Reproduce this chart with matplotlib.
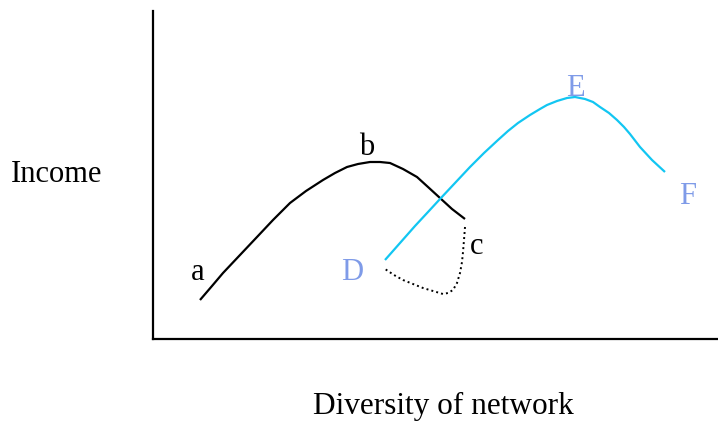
import numpy as np
import matplotlib
matplotlib.use('Agg')
import matplotlib.pyplot as plt

# curve readings (x = diversity, y = income), in arbitrary units from the axes corner
black_x = [47, 59, 70, 87, 104, 120, 137, 153, 170, 182, 194, 205, 217, 227, 237,
           250, 264, 275, 287, 299, 312]
black_y = [39, 53, 66, 84, 102, 119, 136, 148, 159, 166, 172, 175, 177, 177, 176,
           170, 162, 152, 141, 130, 120]

dotted_x = [312, 311, 310, 309, 307, 304, 300, 295, 290, 280, 270, 260, 250, 241, 232]
dotted_y = [112, 99, 87, 77, 66, 56, 49, 46, 45, 48, 51, 55, 59, 64, 70]

cyan_x = [232, 247, 262, 275, 287, 302, 317, 331, 345, 355, 365, 377, 387, 394, 404,
          414, 422, 432, 440, 447, 456, 464, 471, 477, 487, 499, 512]
cyan_y = [79, 96, 113, 127, 140, 156, 172, 186, 199, 208, 216, 224, 230, 234, 238,
          241, 242, 240, 237, 232, 226, 219, 212, 205, 192, 179, 167]

# point labels: (text, x, y)
labels = ['a', 'b', 'c', 'D', 'E', 'F']
label_x = [45, 214, 324, 199, 422, 535]
label_y = [67, 191, 92, 66, 250, 143]
label_colors = ['black', 'black', 'black', '#7f9be8', '#7f9be8', '#7f9be8']

plt.rcParams['font.family'] = ['Liberation Serif', 'DejaVu Serif']

fig = plt.figure(figsize=(7.18, 4.23), dpi=100, facecolor='white')
ax = fig.add_axes([153 / 718, 84 / 423, 565 / 718, 328 / 423])

ax.plot(black_x, black_y, color='black', lw=1.6, solid_capstyle='butt',
        solid_joinstyle='round')
ax.plot(dotted_x, dotted_y, color='black', lw=1.4, linestyle=(0, (1, 1.6)))
ax.plot(cyan_x, cyan_y, color='#12c6f2', lw=1.6, solid_capstyle='butt',
        solid_joinstyle='round')

for t, x, y, c in zip(labels, label_x, label_y, label_colors):
    ax.text(x, y, t, color=c, fontsize=22, ha='center', va='center')

ax.set_xlim(0, 565)
ax.set_ylim(0, 328)
ax.set_xticks([])
ax.set_yticks([])
for s in ['top', 'right']:
    ax.spines[s].set_visible(False)
for s in ['left', 'bottom']:
    ax.spines[s].set_linewidth(1.6)

fig.text(57 / 718, 1 - 174 / 423, 'Income', fontsize=22, ha='center', va='center')
fig.text(443 / 718, 1 - 406 / 423, 'Diversity of network', fontsize=22.5,
         ha='center', va='center')

fig.savefig('out.png', dpi=100, facecolor='white')
plt.close(fig)
